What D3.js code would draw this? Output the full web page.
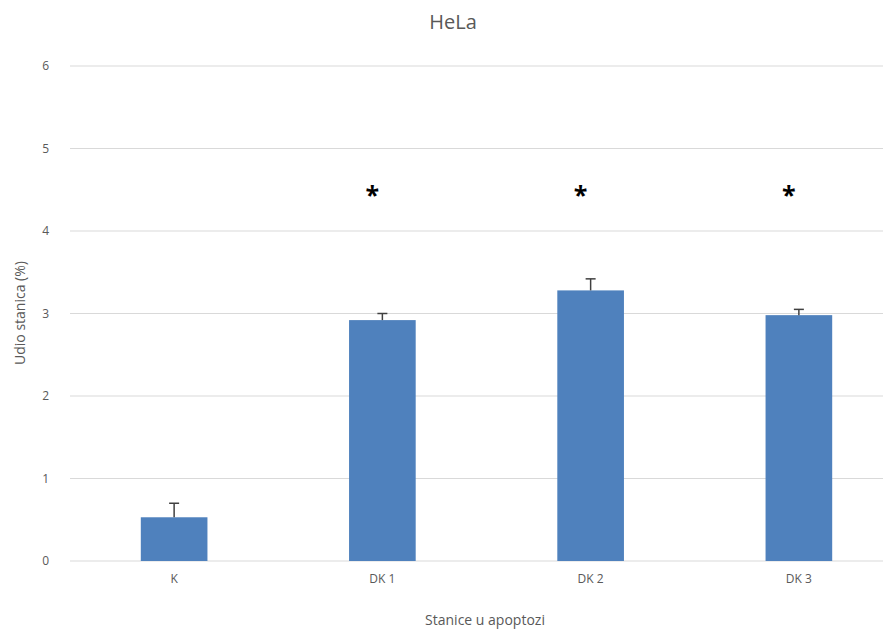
<!DOCTYPE html>
<html>
<head>
<meta charset="utf-8">
<script src="https://cdn.jsdelivr.net/npm/d3@7"></script>
<style>
body { margin:0; background:#fff; }
text { font-family: "Open Sans", "Noto Sans", sans-serif; fill:#595959; }
</style>
</head>
<body>
<svg id="chart" width="893" height="633"></svg>
<script>
// data
var categories = ['K', 'DK 1', 'DK 2', 'DK 3'];
var values = [0.53, 2.92, 3.28, 2.98];
var errors = [0.17, 0.08, 0.14, 0.07];
var signif = [false, true, true, true];
var yTicks = [0, 1, 2, 3, 4, 5, 6];

var svg = d3.select('#chart');

var x = d3.scaleBand()
    .domain(categories)
    .range([70, 903])
    .paddingInner(0.68)
    .paddingOuter(0.34);

var y = d3.scaleLinear()
    .domain([0, 6])
    .range([561, 66]);

// grid
svg.append('g').selectAll('line')
  .data(yTicks)
  .enter().append('line')
    .attr('x1', 70).attr('x2', 883)
    .attr('y1', function(d){ return y(d); })
    .attr('y2', function(d){ return y(d); })
    .attr('stroke', '#d9d9d9')
    .attr('stroke-width', 1);

// y tick labels
svg.append('g').selectAll('text')
  .data(yTicks)
  .enter().append('text')
    .attr('x', 49)
    .attr('y', function(d){ return y(d); })
    .attr('dy', '0.35em')
    .attr('text-anchor', 'end')
    .style('font-size', '12px')
    .text(function(d){ return d; });

// bars
svg.append('g').selectAll('rect')
  .data(values)
  .enter().append('rect')
    .attr('x', function(d, i){ return x(categories[i]); })
    .attr('width', x.bandwidth())
    .attr('y', function(d){ return y(d); })
    .attr('height', function(d){ return y(0) - y(d); })
    .attr('fill', '#4f81bd');

// error bars (upper only)
var eb = svg.append('g').selectAll('g')
  .data(values)
  .enter().append('g')
    .attr('stroke', '#404040')
    .attr('stroke-width', 1.5);
eb.append('line')
    .attr('x1', function(d, i){ return x(categories[i]) + x.bandwidth() / 2; })
    .attr('x2', function(d, i){ return x(categories[i]) + x.bandwidth() / 2; })
    .attr('y1', function(d){ return y(d); })
    .attr('y2', function(d, i){ return y(d + errors[i]); });
eb.append('line')
    .attr('x1', function(d, i){ return x(categories[i]) + x.bandwidth() / 2 - 5; })
    .attr('x2', function(d, i){ return x(categories[i]) + x.bandwidth() / 2 + 5; })
    .attr('y1', function(d, i){ return y(d + errors[i]); })
    .attr('y2', function(d, i){ return y(d + errors[i]); });

// significance asterisks (sit a little left of the bar centre)
svg.append('g').selectAll('text')
  .data(categories.filter(function(c, i){ return signif[i]; }))
  .enter().append('text')
    .attr('x', function(d){ return x(d) + x.bandwidth() / 2 - 10; })
    .attr('y', 204)
    .attr('text-anchor', 'middle')
    .style('font-size', '25px')
    .style('font-weight', 'bold')
    .style('fill', '#000')
    .text('*');

// x tick labels
svg.append('g').selectAll('text')
  .data(categories)
  .enter().append('text')
    .attr('x', function(d){ return x(d) + x.bandwidth() / 2; })
    .attr('y', 583)
    .attr('text-anchor', 'middle')
    .style('font-size', '12px')
    .text(function(d){ return d; });

// titles
svg.append('text')
    .attr('x', 453).attr('y', 29)
    .attr('text-anchor', 'middle')
    .style('font-size', '20px')
    .text('HeLa');

svg.append('text')
    .attr('x', 485).attr('y', 625)
    .attr('text-anchor', 'middle')
    .style('font-size', '14px')
    .text('Stanice u apoptozi');

svg.append('text')
    .attr('transform', 'translate(25,313) rotate(-90)')
    .attr('text-anchor', 'middle')
    .style('font-size', '14px')
    .text('Udio stanica (%)');
</script>
</body>
</html>
